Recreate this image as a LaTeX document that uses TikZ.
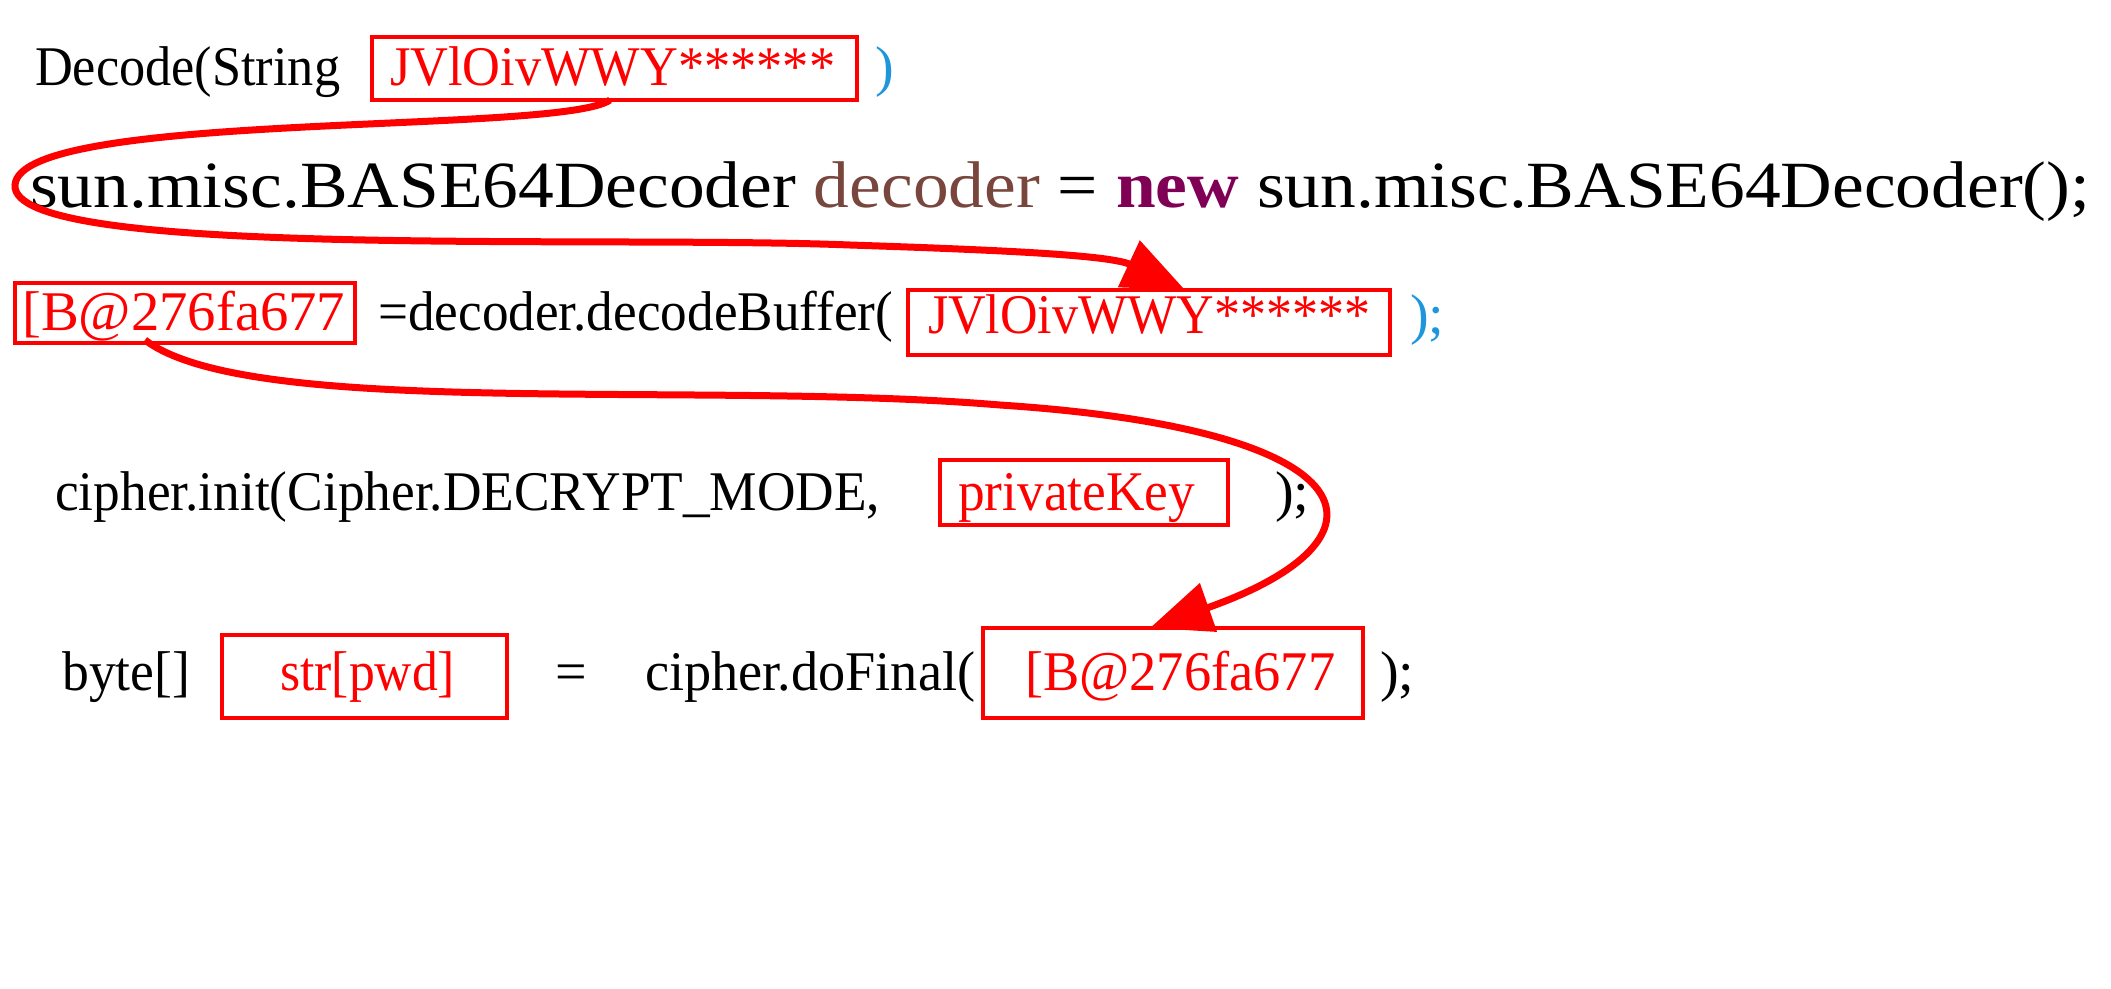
\documentclass[tikz,border=0pt]{standalone}
\usepackage{fontspec}
\setmainfont{Liberation Serif}
\usetikzlibrary{arrows.meta}
\definecolor{rd}{RGB}{255,0,0}
\definecolor{bl}{RGB}{30,150,220}
\definecolor{br}{RGB}{120,70,60}
\definecolor{pu}{RGB}{127,0,85}
\newcommand{\fw}[2]{\resizebox{#1pt}{\height}{#2}}
\begin{document}
\begin{tikzpicture}[x=1pt,y=-1pt,
  txt/.style={anchor=base west,inner sep=0,font=\fontsize{56}{60}\selectfont},
  bx/.style={draw=rd,line width=4pt},
  arr/.style={draw=rd,line width=7pt,-{Triangle[length=62pt,width=50pt]}}]
\useasboundingbox (0,0) rectangle (2111,988);
\node[txt] (l1) at (35,85) {\fw{305}{Decode(String}};
\draw[bx] (372,37) rectangle (857,100);
\node[txt,text=rd] (s1) at (390,85) {\fw{445}{JVlOivWWY******}};
\node[txt,text=bl] (p1) at (875,85) {)};
\node[txt,font=\fontsize{66}{70}\selectfont] (l2) at (30,207) {\fw{2060}{sun.misc.BASE64Decoder \textcolor{br}{decoder} = \textcolor{pu}{\textbf{new}} sun.misc.BASE64Decoder();}};
\draw[bx] (15,283) rectangle (355,343);
\node[txt,text=rd] (b1) at (22,330) {\fw{323}{[B@276fa677}};
\node[txt] (l3) at (378,330) {\fw{515}{=decoder.decodeBuffer(}};
\draw[bx] (908,290) rectangle (1390,355);
\node[txt,text=rd] (s2) at (928,333) {\fw{442}{JVlOivWWY******}};
\node[txt,text=bl] (p3) at (1410,333) {);};
\node[txt] (l4) at (55,510) {\fw{825}{cipher.init(Cipher.DECRYPT\_MODE,}};
\draw[bx] (940,460) rectangle (1228,525);
\node[txt,text=rd] (pk) at (958,510) {\fw{237}{privateKey}};
\node[txt] (p4) at (1275,510) {);};
\node[txt] (l5) at (62,690) {\fw{128}{byte[]}};
\draw[bx] (222,635) rectangle (507,718);
\node[txt,text=rd] (pw) at (280,690) {\fw{175}{str[pwd]}};
\node[txt] (eq) at (555,690) {=};
\node[txt] (l5b) at (645,690) {\fw{330}{cipher.doFinal(}};
\draw[bx] (983,628) rectangle (1363,718);
\node[txt,text=rd] (b2) at (1025,690) {\fw{310}{[B@276fa677}};
\node[txt] (p5) at (1380,690) {);};
\coordinate (a1s) at (610,100);
\coordinate (a1e) at (1185,290);
\coordinate (a2s) at (145,340);
\coordinate (a2e) at (1150,628);
\draw[arr] (a1s) .. controls (560,135) and (20,110) .. (15,185)
  .. controls (10,260) and (600,235) .. (850,245)
  .. controls (1000,250) and (1110,255) .. (a1e);
\draw[arr] (a2s) .. controls (250,420) and (700,380) .. (1000,405)
  .. controls (1380,430) and (1400,540) .. (a2e);
\end{tikzpicture}
\end{document}
